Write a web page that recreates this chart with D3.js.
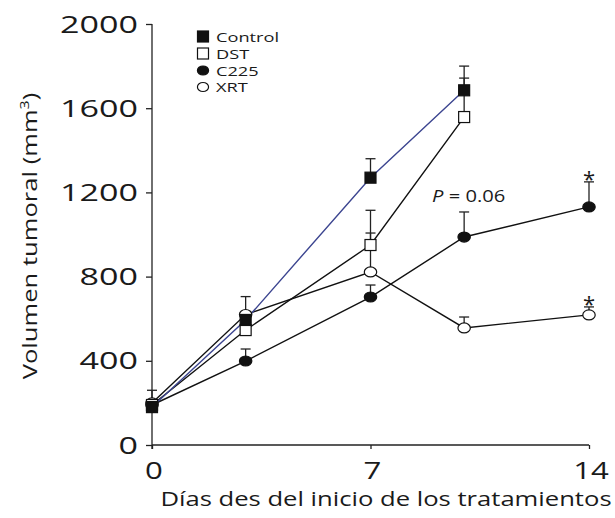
<!DOCTYPE html>
<html>
<head>
<meta charset="utf-8">
<script src="https://cdn.jsdelivr.net/npm/d3@7/dist/d3.min.js"></script>
<style>
  html, body { margin: 0; padding: 0; background: #fff; }
  svg { display: block; font-family: "Open Sans", "DejaVu Sans", sans-serif; }
</style>
</head>
<body>
<svg id="chart" width="615" height="518"></svg>
<script>
// Tumour volume (mm³) by day of treatment, mean with upward SEM bars
const days = [0, 3, 7, 10, 14];
const yTicks = [0, 400, 800, 1200, 1600, 2000];
const xTicks = [0, 7, 14];

const controlVals = [180, 594, 1270, 1685];
const controlErr  = [0, 0, 90, 115];
const dstVals     = [190, 546, 950, 1558];
const dstErr      = [0, 0, 165, 185];
const c225Vals    = [190, 399, 703, 988, 1131];
const c225Err     = [0, 57, 57, 119, 119];
const xrtVals     = [200, 620, 822, 556, 618];
const xrtErr      = [60, 85, 185, 52, 38];

const seriesNames = ["Control", "DST", "C225", "XRT"];

const svg = d3.select("#chart");
const x = d3.scaleLinear().domain([0, 14]).range([152, 589]);
const y = d3.scaleLinear().domain([0, 2000]).range([445, 24]);

// Text helper: places a horizontally widened label
function label(g, tx, ty, str, size, anchor, sx) {
  return g.append("text")
    .attr("transform", `translate(${tx},${ty}) scale(${sx},1)`)
    .attr("text-anchor", anchor)
    .attr("font-size", size)
    .attr("fill", "#1a1a1a")
    .text(str);
}

// Axes
const yAxis = d3.axisLeft(y).tickValues(yTicks).tickSize(6).tickFormat("");
const gy = svg.append("g").attr("transform", "translate(152,0)").call(yAxis);
gy.select(".domain").attr("d", `M-0,${y(0) + 4}V${y(2000)}`);
const xAxis = d3.axisBottom(x).tickValues(xTicks).tickSize(4).tickFormat("");
const gx = svg.append("g").attr("transform", `translate(0,${y(0)})`).call(xAxis);
gx.select(".domain").attr("d", `M${x(0)},0H${x(14)}`);
svg.selectAll(".domain, .tick line").attr("stroke", "#222").attr("stroke-width", 1.3);

yTicks.forEach(v => label(svg, 138, y(v) + 8.5, String(v), 24, "end", 1.42));
xTicks.forEach(v => label(svg, x(v) + 2, 479, String(v), 24, "middle", 1.3));

label(svg, 386, 506, "Días des del inicio de los tratamientos", 20.5, "middle", 1.25);
const yt = svg.append("text")
  .attr("transform", `translate(37,236) rotate(-90) scale(1.28,1)`)
  .attr("text-anchor", "middle").attr("font-size", 20).attr("fill", "#1a1a1a");
yt.append("tspan").text("Volumen tumoral (mm");
yt.append("tspan").attr("font-size", 12.5).attr("dy", -8).text("3");
yt.append("tspan").attr("dy", 8).text(")");

// Series definitions
const series = [
  { name: seriesNames[0], vals: controlVals, err: controlErr, shape: "square", fill: "#111", line: "#3c4590" },
  { name: seriesNames[1], vals: dstVals, err: dstErr, shape: "square", fill: "#fff", line: "#111" },
  { name: seriesNames[2], vals: c225Vals, err: c225Err, shape: "circle", fill: "#111", line: "#111" },
  { name: seriesNames[3], vals: xrtVals, err: xrtErr, shape: "circle", fill: "#fff", line: "#111" }
].map(s => ({ ...s, pts: s.vals.map((v, i) => ({ d: days[i], v, e: s.err[i] })) }));

const line = d3.line().x(p => x(p.d)).y(p => y(p.v));
const lines = svg.append("g");
// black lines first, control (blue) on top
[series[3], series[2], series[1], series[0]].forEach(s => {
  lines.append("path").attr("d", line(s.pts)).attr("fill", "none")
    .attr("stroke", s.line).attr("stroke-width", 1.4);
});

// Error bars
const eb = svg.append("g").attr("stroke", "#222").attr("stroke-width", 1.3);
series.forEach(s => s.pts.filter(p => p.e > 0).forEach(p => {
  eb.append("line").attr("x1", x(p.d)).attr("x2", x(p.d)).attr("y1", y(p.v)).attr("y2", y(p.v + p.e));
  eb.append("line").attr("x1", x(p.d) - 5).attr("x2", x(p.d) + 5).attr("y1", y(p.v + p.e)).attr("y2", y(p.v + p.e));
}));

// Markers
function marker(g, cx, cy, s, scale = 1) {
  if (s.shape === "square") {
    const w = 11 * scale;
    g.append("rect").attr("x", cx - w / 2).attr("y", cy - w / 2).attr("width", w).attr("height", w)
      .attr("fill", s.fill).attr("stroke", "#111").attr("stroke-width", 1.2);
  } else {
    g.append("ellipse").attr("cx", cx).attr("cy", cy).attr("rx", 6.2 * scale).attr("ry", 5 * scale)
      .attr("fill", s.fill).attr("stroke", "#111").attr("stroke-width", 1.2);
  }
}
const mk = svg.append("g");
[series[2], series[3], series[1], series[0]].forEach(s =>
  s.pts.forEach(p => marker(mk, x(p.d), y(p.v), s)));

// Significance annotations
const pt = label(svg, 432, 202, "", 16, "start", 1.26);
pt.append("tspan").attr("font-style", "italic").text("P");
pt.append("tspan").text(" = 0.06");
label(svg, x(14), y(c225Vals[4] + c225Err[4]) + 5, "*", 22, "middle", 1);
label(svg, x(14), y(xrtVals[4] + xrtErr[4]) + 5, "*", 22, "middle", 1);

// Legend
const lg = svg.append("g");
const rowsY = [36.5, 53.5, 70.5, 87];
series.forEach((s, i) => {
  marker(lg, 203, rowsY[i], s, i < 2 ? 1 : 0.9);
  label(lg, 216, rowsY[i] + 5, s.name, 13, "start", 1.4);
});
</script>
</body>
</html>
